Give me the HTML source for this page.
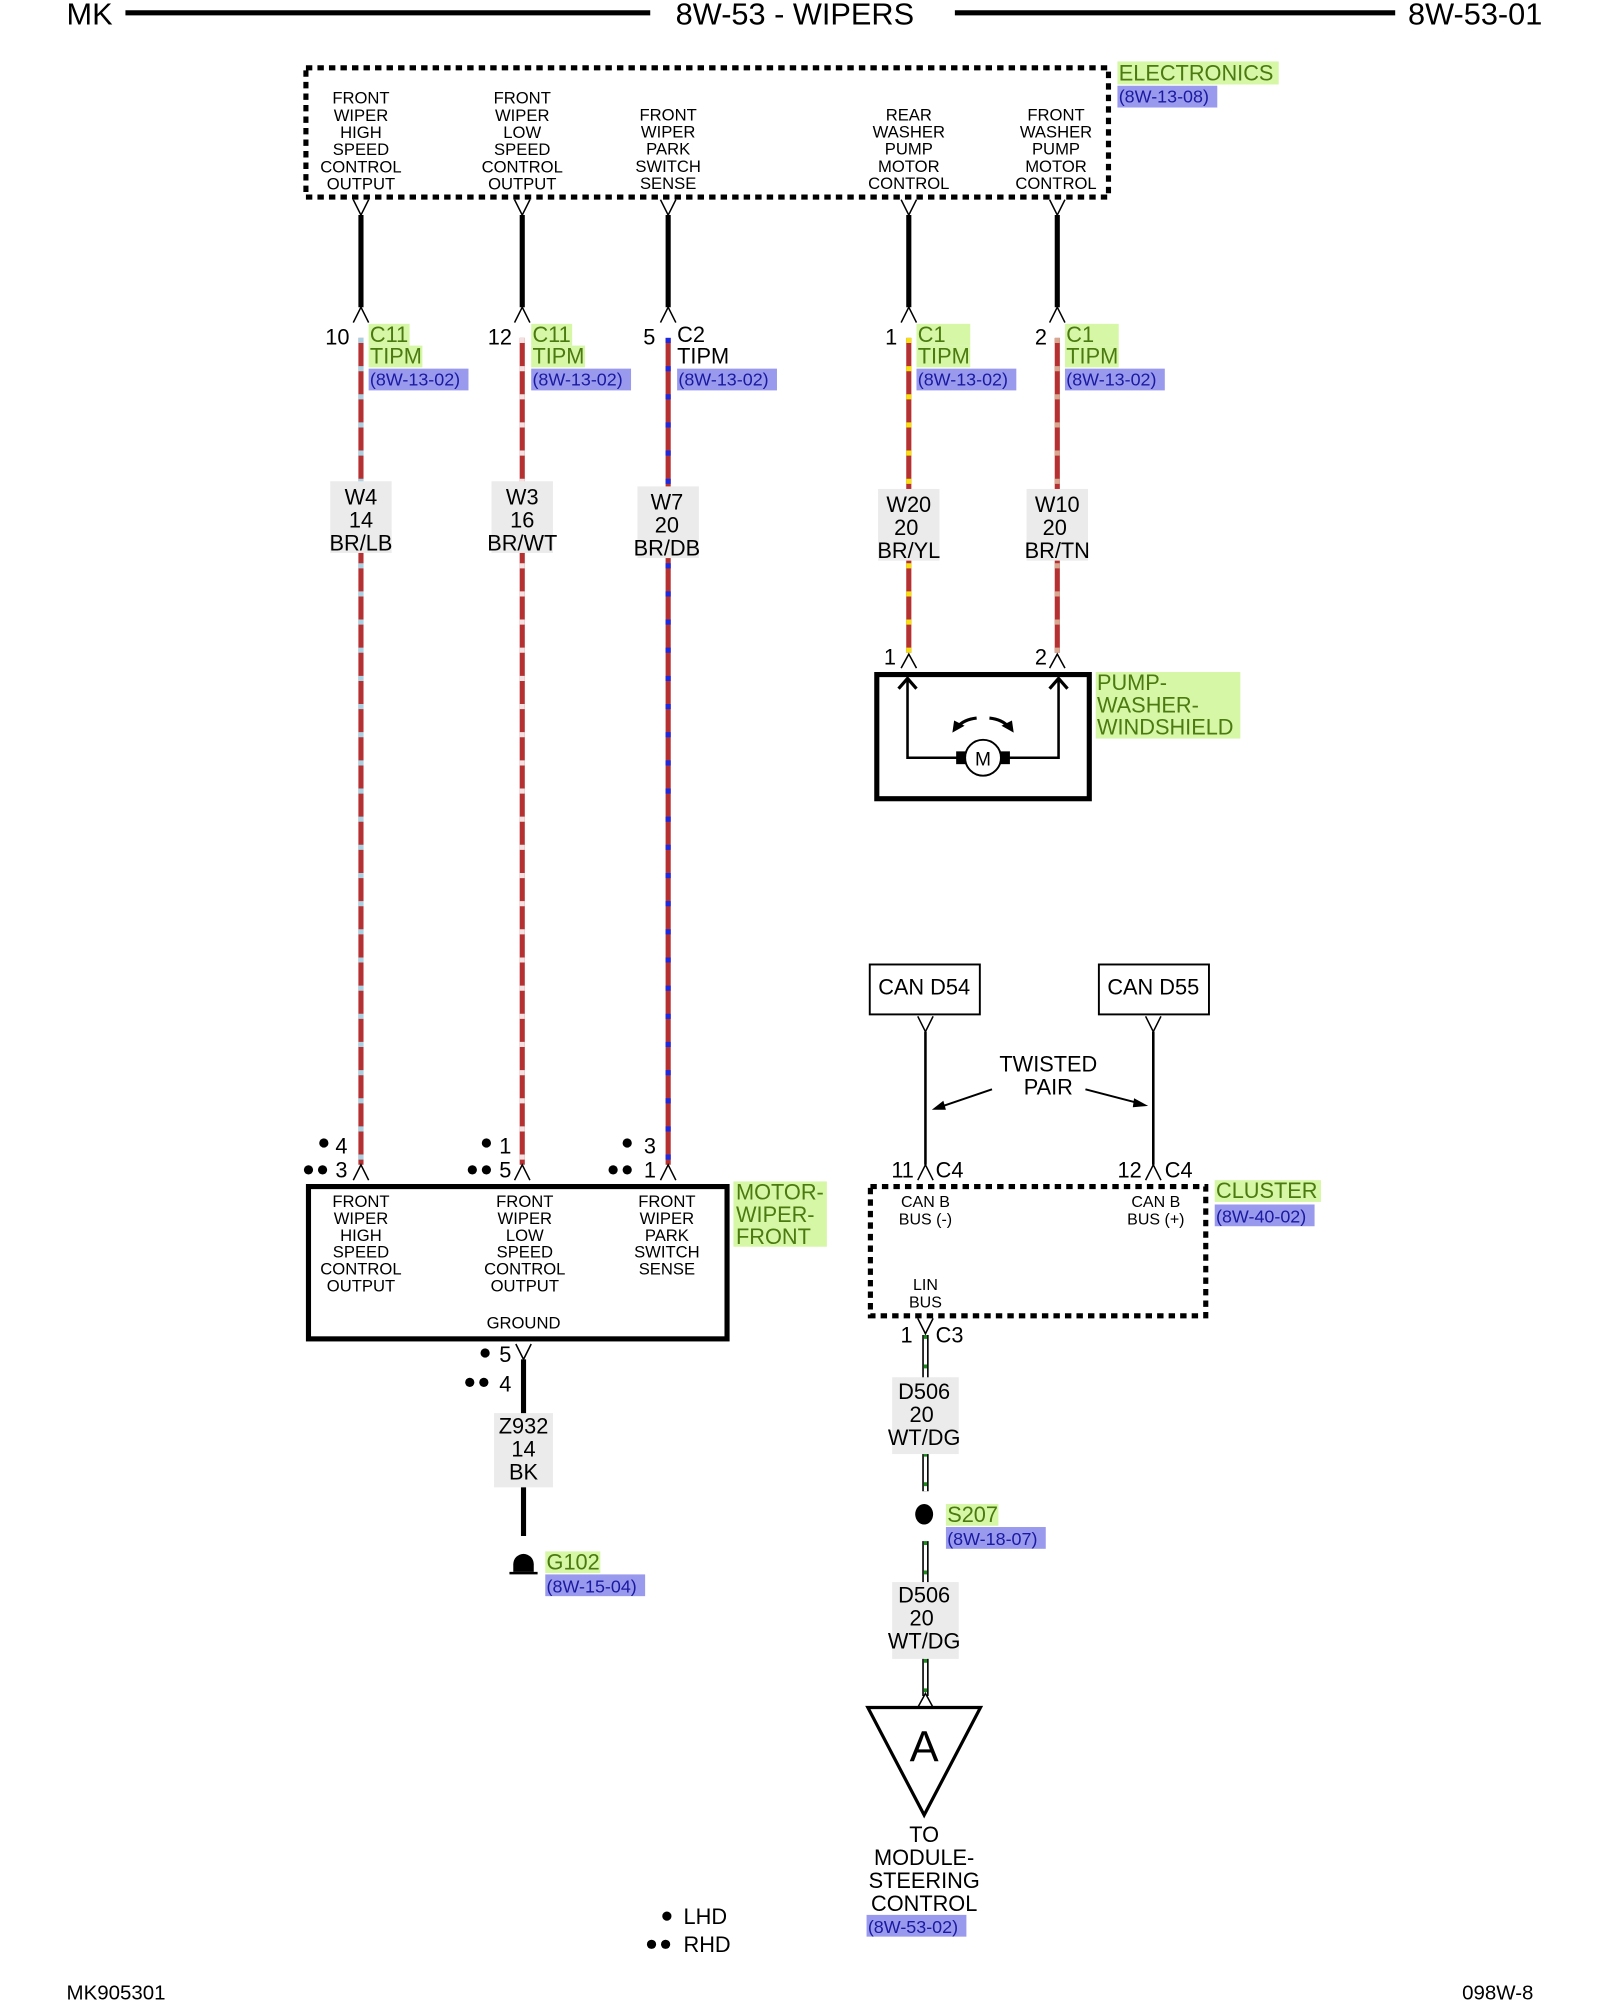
<!DOCTYPE html>
<html><head><meta charset="utf-8"><style>html,body{margin:0;padding:0;background:#fff}svg{display:block}</style></head>
<body>
<svg width="1600" height="2000" viewBox="0 0 1250 1562.5" xmlns="http://www.w3.org/2000/svg" font-family="Liberation Sans, sans-serif">
<rect width="1250" height="1562.5" fill="#fff"/>
<!-- header -->
<g font-size="24" fill="#000">
<text x="52" y="19">MK</text>
<text x="621" y="19" text-anchor="middle">8W-53 - WIPERS</text>
<text x="1100" y="19">8W-53-01</text>
</g>
<line x1="98" y1="10" x2="508" y2="10" stroke="#000" stroke-width="4"/>
<line x1="746" y1="10" x2="1090" y2="10" stroke="#000" stroke-width="4"/>

<!-- ELECTRONICS box -->
<rect x="239" y="53" width="627" height="101" fill="none" stroke="#000" stroke-width="4" stroke-dasharray="5 4"/>
<rect x="873" y="48" width="126" height="18" fill="#d6f7a6"/>
<text x="874" y="63" font-size="17" fill="#4a7a10">ELECTRONICS</text>
<rect x="873" y="67" width="78" height="17" fill="#9999ee"/>
<text x="874" y="80" font-size="14" fill="#1a1aa0">(8W-13-08)</text>
<g font-size="13" text-anchor="middle" fill="#000">
<text x="282" y="81"><tspan x="282">FRONT</tspan><tspan x="282" dy="13.4">WIPER</tspan><tspan x="282" dy="13.4">HIGH</tspan><tspan x="282" dy="13.4">SPEED</tspan><tspan x="282" dy="13.4">CONTROL</tspan><tspan x="282" dy="13.4">OUTPUT</tspan></text>
<text x="408" y="81"><tspan x="408">FRONT</tspan><tspan x="408" dy="13.4">WIPER</tspan><tspan x="408" dy="13.4">LOW</tspan><tspan x="408" dy="13.4">SPEED</tspan><tspan x="408" dy="13.4">CONTROL</tspan><tspan x="408" dy="13.4">OUTPUT</tspan></text>
<text x="522" y="94"><tspan x="522">FRONT</tspan><tspan x="522" dy="13.4">WIPER</tspan><tspan x="522" dy="13.4">PARK</tspan><tspan x="522" dy="13.4">SWITCH</tspan><tspan x="522" dy="13.4">SENSE</tspan></text>
<text x="710" y="94"><tspan x="710">REAR</tspan><tspan x="710" dy="13.4">WASHER</tspan><tspan x="710" dy="13.4">PUMP</tspan><tspan x="710" dy="13.4">MOTOR</tspan><tspan x="710" dy="13.4">CONTROL</tspan></text>
<text x="825" y="94"><tspan x="825">FRONT</tspan><tspan x="825" dy="13.4">WASHER</tspan><tspan x="825" dy="13.4">PUMP</tspan><tspan x="825" dy="13.4">MOTOR</tspan><tspan x="825" dy="13.4">CONTROL</tspan></text>
</g>

<!-- top connectors and black wires -->
<g stroke="#000" fill="none" stroke-width="1.2">
<path d="M276 156 L282 168 L288 156 M276 252 L282 240 L288 252"/>
<path d="M402 156 L408 168 L414 156 M402 252 L408 240 L414 252"/>
<path d="M516 156 L522 168 L528 156 M516 252 L522 240 L528 252"/>
<path d="M704 156 L710 168 L716 156 M704 252 L710 240 L716 252"/>
<path d="M820 156 L826 168 L832 156 M820 252 L826 240 L832 252"/>
</g>
<g stroke="#000" stroke-width="4">
<line x1="282" y1="168" x2="282" y2="240"/><line x1="408" y1="168" x2="408" y2="240"/>
<line x1="522" y1="168" x2="522" y2="240"/><line x1="710" y1="168" x2="710" y2="240"/>
<line x1="826" y1="168" x2="826" y2="240"/>
</g>

<!-- connector labels -->
<g font-size="17">
<text x="273" y="269" text-anchor="end">10</text>
<text x="400" y="269" text-anchor="end">12</text>
<text x="512" y="269" text-anchor="end">5</text>
<text x="701" y="269" text-anchor="end">1</text>
<text x="818" y="269" text-anchor="end">2</text>
</g>
<g font-size="17" fill="#4a7a10">
<rect x="288" y="253" width="32" height="17" fill="#d6f7a6"/><text x="289" y="267">C11</text>
<rect x="288" y="270" width="42" height="17" fill="#d6f7a6"/><text x="289" y="284">TIPM</text>
<rect x="415" y="253" width="32" height="17" fill="#d6f7a6"/><text x="416" y="267">C11</text>
<rect x="415" y="270" width="42" height="17" fill="#d6f7a6"/><text x="416" y="284">TIPM</text>
<text x="529" y="267" fill="#000">C2</text>
<text x="529" y="284" fill="#000">TIPM</text>
<rect x="716" y="253" width="42" height="17" fill="#d6f7a6"/><text x="717" y="267">C1</text>
<rect x="716" y="270" width="42" height="17" fill="#d6f7a6"/><text x="717" y="284">TIPM</text>
<rect x="832" y="253" width="42" height="17" fill="#d6f7a6"/><text x="833" y="267">C1</text>
<rect x="832" y="270" width="42" height="17" fill="#d6f7a6"/><text x="833" y="284">TIPM</text>
</g>
<g font-size="14" fill="#1a1aa0">
<rect x="288" y="288" width="78" height="17" fill="#9999ee"/><text x="289" y="301">(8W-13-02)</text>
<rect x="415" y="288" width="78" height="17" fill="#9999ee"/><text x="416" y="301">(8W-13-02)</text>
<rect x="529" y="288" width="78" height="17" fill="#9999ee"/><text x="530" y="301">(8W-13-02)</text>
<rect x="716" y="288" width="78" height="17" fill="#9999ee"/><text x="717" y="301">(8W-13-02)</text>
<rect x="832" y="288" width="78" height="17" fill="#9999ee"/><text x="833" y="301">(8W-13-02)</text>
</g>

<!-- colored wires -->
<g stroke-width="4">
<line x1="282" y1="264" x2="282" y2="910" stroke="#b53030"/>
<line x1="282" y1="264" x2="282" y2="910" stroke="#a8d0e0" stroke-dasharray="4 18"/>
<line x1="408" y1="264" x2="408" y2="910" stroke="#b53030"/>
<line x1="408" y1="264" x2="408" y2="910" stroke="#f4e0e0" stroke-dasharray="4 18"/>
<line x1="522" y1="264" x2="522" y2="910" stroke="#b53030"/>
<line x1="522" y1="264" x2="522" y2="910" stroke="#1a2ae0" stroke-dasharray="4 18"/>
<line x1="710" y1="264" x2="710" y2="510" stroke="#b53030"/>
<line x1="710" y1="264" x2="710" y2="510" stroke="#f5e010" stroke-dasharray="4 18"/>
<line x1="826" y1="264" x2="826" y2="510" stroke="#b53030"/>
<line x1="826" y1="264" x2="826" y2="510" stroke="#d8a890" stroke-dasharray="4 18"/>
</g>
<!-- wire labels -->
<g font-size="17" text-anchor="middle">
<rect x="258" y="376" width="48" height="56" fill="#ebebeb"/>
<text x="282" y="394"><tspan x="282">W4</tspan><tspan x="282" dy="18">14</tspan><tspan x="282" dy="18">BR/LB</tspan></text>
<rect x="384" y="376" width="48" height="56" fill="#ebebeb"/>
<text x="408" y="394"><tspan x="408">W3</tspan><tspan x="408" dy="18">16</tspan><tspan x="408" dy="18">BR/WT</tspan></text>
<rect x="498" y="380" width="48" height="56" fill="#ebebeb"/>
<text x="521" y="398"><tspan x="521">W7</tspan><tspan x="521" dy="18">20</tspan><tspan x="521" dy="18">BR/DB</tspan></text>
<rect x="686" y="382" width="48" height="56" fill="#ebebeb"/>
<text x="710" y="400"><tspan x="710">W20</tspan><tspan x="708" dy="18">20</tspan><tspan x="710" dy="18">BR/YL</tspan></text>
<rect x="802" y="382" width="48" height="56" fill="#ebebeb"/>
<text x="826" y="400"><tspan x="826">W10</tspan><tspan x="824" dy="18">20</tspan><tspan x="826" dy="18">BR/TN</tspan></text>
</g>

<!-- pump -->
<g font-size="17"><text x="700" y="519" text-anchor="end">1</text><text x="818" y="519" text-anchor="end">2</text></g>
<path d="M704 522 L710 511 L716 522 M820 522 L826 511 L832 522" stroke="#000" fill="none" stroke-width="1.2"/>
<rect x="685" y="527" width="166" height="97" fill="none" stroke="#000" stroke-width="4"/>
<path d="M709 530 V592 H752 M784 592 H827 V530" fill="none" stroke="#000" stroke-width="2"/>
<path d="M702 538 L709 530 L716 538 M820 538 L827 530 L834 538" fill="none" stroke="#000" stroke-width="2.5"/>
<rect x="747" y="587" width="8" height="10"/><rect x="781" y="587" width="8" height="10"/>
<circle cx="768" cy="592" r="14" fill="#fff" stroke="#000" stroke-width="1.5"/>
<text x="768" y="598" font-size="15" text-anchor="middle">M</text>
<path d="M763 561 Q753 562 748 568 M773 561 Q783 562 788 568" fill="none" stroke="#000" stroke-width="2.5"/>
<path d="M745 571 L746 564 L752 567 Z M791 571 L790 564 L784 567 Z" stroke="#000" stroke-width="1.5"/>
<rect x="856" y="525" width="113" height="52" fill="#d6f7a6"/>
<g font-size="17" fill="#4a7a10"><text x="857" y="539"><tspan x="857">PUMP-</tspan><tspan x="857" dy="17.5">WASHER-</tspan><tspan x="857" dy="17.5">WINDSHIELD</tspan></text></g>

<!-- motor wiper front -->
<g font-size="17">
<text x="262" y="901">4</text><text x="262" y="920">3</text>
<text x="390" y="901">1</text><text x="390" y="920">5</text>
<text x="503" y="901">3</text><text x="503" y="920">1</text>
</g>
<g fill="#000">
<circle cx="253" cy="893" r="3.6"/><circle cx="241" cy="914" r="3.6"/><circle cx="252" cy="914" r="3.6"/>
<circle cx="380" cy="893" r="3.6"/><circle cx="369" cy="914" r="3.6"/><circle cx="380" cy="914" r="3.6"/>
<circle cx="490" cy="893" r="3.6"/><circle cx="479" cy="914" r="3.6"/><circle cx="490" cy="914" r="3.6"/>
<circle cx="379" cy="1057" r="3.6"/><circle cx="367" cy="1080" r="3.6"/><circle cx="378" cy="1080" r="3.6"/>
<circle cx="521" cy="1497" r="3.6"/><circle cx="509" cy="1519" r="3.6"/><circle cx="520" cy="1519" r="3.6"/>
</g>
<path d="M276 922 L282 910 L288 922 M402 922 L408 910 L414 922 M516 922 L522 910 L528 922" stroke="#000" fill="none" stroke-width="1.2"/>
<rect x="241" y="927" width="327" height="119" fill="none" stroke="#000" stroke-width="4"/>
<g font-size="13" text-anchor="middle">
<text x="282" y="943"><tspan x="282">FRONT</tspan><tspan x="282" dy="13.2">WIPER</tspan><tspan x="282" dy="13.2">HIGH</tspan><tspan x="282" dy="13.2">SPEED</tspan><tspan x="282" dy="13.2">CONTROL</tspan><tspan x="282" dy="13.2">OUTPUT</tspan></text>
<text x="410" y="943"><tspan x="410">FRONT</tspan><tspan x="410" dy="13.2">WIPER</tspan><tspan x="410" dy="13.2">LOW</tspan><tspan x="410" dy="13.2">SPEED</tspan><tspan x="410" dy="13.2">CONTROL</tspan><tspan x="410" dy="13.2">OUTPUT</tspan></text>
<text x="521" y="943"><tspan x="521">FRONT</tspan><tspan x="521" dy="13.2">WIPER</tspan><tspan x="521" dy="13.2">PARK</tspan><tspan x="521" dy="13.2">SWITCH</tspan><tspan x="521" dy="13.2">SENSE</tspan></text>
<text x="409" y="1038">GROUND</text>
</g>
<rect x="573" y="923" width="73" height="51" fill="#d6f7a6"/>
<g font-size="17" fill="#4a7a10"><text x="575" y="937"><tspan x="575">MOTOR-</tspan><tspan x="575" dy="17.5">WIPER-</tspan><tspan x="575" dy="17.5">FRONT</tspan></text></g>

<!-- ground -->
<path d="M403 1050 L409 1062 L415 1050" stroke="#000" fill="none" stroke-width="1.2"/>
<g font-size="17"><text x="390" y="1064">5</text><text x="390" y="1087">4</text></g>
<line x1="409" y1="1062" x2="409" y2="1200" stroke="#000" stroke-width="4"/>
<rect x="386" y="1104" width="46" height="58" fill="#ebebeb"/>
<g font-size="17" text-anchor="middle"><text x="409" y="1120"><tspan x="409">Z932</tspan><tspan x="409" dy="18">14</tspan><tspan x="409" dy="18">BK</tspan></text></g>
<path d="M401 1228 L401 1222 A8 8 0 0 1 417 1222 L417 1228 Z" fill="#000"/>
<line x1="398" y1="1229" x2="420" y2="1229" stroke="#000" stroke-width="2"/>
<rect x="426" y="1212" width="43" height="17" fill="#d6f7a6"/><text x="427" y="1226" font-size="17" fill="#4a7a10">G102</text>
<rect x="426" y="1230" width="78" height="17" fill="#9999ee"/><text x="427" y="1244" font-size="14" fill="#1a1aa0">(8W-15-04)</text>

<!-- CAN boxes -->
<rect x="679.5" y="753.5" width="86" height="39" fill="none" stroke="#000" stroke-width="1.5"/>
<rect x="858.5" y="753.5" width="86" height="39" fill="none" stroke="#000" stroke-width="1.5"/>
<g font-size="17" text-anchor="middle"><text x="722" y="777">CAN D54</text><text x="901" y="777">CAN D55</text>
<text x="819" y="837">TWISTED</text><text x="819" y="855">PAIR</text></g>
<path d="M717 794 L723 806 L729 794 M895 794 L901 806 L907 794" stroke="#000" fill="none" stroke-width="1.2"/>
<line x1="723" y1="806" x2="723" y2="910" stroke="#000" stroke-width="2"/>
<line x1="901" y1="806" x2="901" y2="910" stroke="#000" stroke-width="2"/>
<line x1="775" y1="851" x2="734" y2="865" stroke="#000" stroke-width="1.5"/>
<path d="M728 867 L737 860 L739 867 Z"/>
<line x1="848" y1="851" x2="890" y2="862" stroke="#000" stroke-width="1.5"/>
<path d="M897 864 L886 858 L885 865 Z"/>
<path d="M717 922 L723 910 L729 922 M895 922 L901 910 L907 922" stroke="#000" fill="none" stroke-width="1.2"/>
<g font-size="17"><text x="714" y="920" text-anchor="end">11</text><text x="731" y="920">C4</text><text x="892" y="920" text-anchor="end">12</text><text x="910" y="920">C4</text></g>

<!-- cluster -->
<rect x="680" y="927" width="262" height="101" fill="none" stroke="#000" stroke-width="4" stroke-dasharray="5 4"/>
<g font-size="12.5" text-anchor="middle">
<text x="723" y="943"><tspan x="723">CAN B</tspan><tspan x="723" dy="13.5">BUS (-)</tspan></text>
<text x="903" y="943"><tspan x="903">CAN B</tspan><tspan x="903" dy="13.5">BUS (+)</tspan></text>
<text x="723" y="1008"><tspan x="723">LIN</tspan><tspan x="723" dy="13.5">BUS</tspan></text>
</g>
<rect x="949" y="922" width="83" height="17" fill="#d6f7a6"/><text x="950" y="936" font-size="17" fill="#4a7a10">CLUSTER</text>
<rect x="949" y="941" width="78" height="17" fill="#9999ee"/><text x="950" y="955" font-size="14" fill="#1a1aa0">(8W-40-02)</text>

<!-- D506 -->
<path d="M717 1030 L723 1042 L729 1030" stroke="#000" fill="none" stroke-width="1.2"/>
<g font-size="17"><text x="713" y="1049" text-anchor="end">1</text><text x="731" y="1049">C3</text></g>
<g>
<line x1="723" y1="1043" x2="723" y2="1165" stroke="#000" stroke-width="5"/>
<line x1="723" y1="1043" x2="723" y2="1165" stroke="#fff" stroke-width="2.5"/>
<line x1="723" y1="1043" x2="723" y2="1165" stroke="#1a8a1a" stroke-width="2.5" stroke-dasharray="3 20"/>
<line x1="723" y1="1204" x2="723" y2="1325" stroke="#000" stroke-width="5"/>
<line x1="723" y1="1204" x2="723" y2="1325" stroke="#fff" stroke-width="2.5"/>
<line x1="723" y1="1204" x2="723" y2="1325" stroke="#1a8a1a" stroke-width="2.5" stroke-dasharray="3 20"/>
</g>
<rect x="697" y="1076" width="52" height="60" fill="#ebebeb"/>
<rect x="697" y="1236" width="52" height="60" fill="#ebebeb"/>
<g font-size="17" text-anchor="middle">
<text x="722" y="1093"><tspan x="722">D506</tspan><tspan x="720" dy="18">20</tspan><tspan x="722" dy="18">WT/DG</tspan></text>
<text x="722" y="1252"><tspan x="722">D506</tspan><tspan x="720" dy="18">20</tspan><tspan x="722" dy="18">WT/DG</tspan></text>
</g>
<ellipse cx="722" cy="1183" rx="7" ry="8"/>
<rect x="739" y="1175" width="41" height="17" fill="#d6f7a6"/><text x="740" y="1189" font-size="17" fill="#4a7a10">S207</text>
<rect x="739" y="1193" width="78" height="17" fill="#9999ee"/><text x="740" y="1207" font-size="14" fill="#1a1aa0">(8W-18-07)</text>
<path d="M717 1334 L723 1323 L729 1334" stroke="#000" fill="none" stroke-width="1.2"/>
<path d="M678 1334 L766 1334 L722 1418 Z" fill="#fff" stroke="#000" stroke-width="2.5"/>
<text x="722" y="1376" font-size="34" text-anchor="middle">A</text>
<g font-size="17" text-anchor="middle"><text x="722" y="1439"><tspan x="722">TO</tspan><tspan x="722" dy="18">MODULE-</tspan><tspan x="722" dy="18">STEERING</tspan><tspan x="722" dy="18">CONTROL</tspan></text></g>
<rect x="677" y="1496" width="78" height="17" fill="#9999ee"/><text x="678" y="1510" font-size="14" fill="#1a1aa0">(8W-53-02)</text>

<!-- legend & footer -->
<g font-size="17"><text x="534" y="1503">LHD</text><text x="534" y="1525">RHD</text></g>
<g font-size="16"><text x="52" y="1562">MK905301</text><text x="1198" y="1562" text-anchor="end">098W-8</text></g>
</svg>
</body></html>
